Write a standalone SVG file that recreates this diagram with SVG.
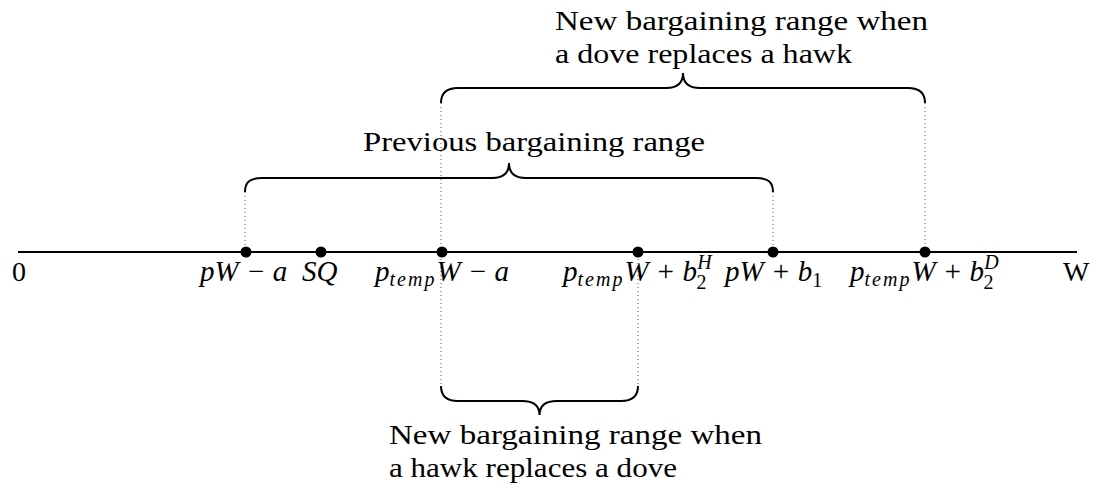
<svg xmlns="http://www.w3.org/2000/svg" width="1094" height="489" viewBox="0 0 1094 489">
<style>
.t{font-family:"Liberation Serif","DejaVu Serif",serif;font-size:27px;fill:#000}
.m{font-family:"Liberation Serif","DejaVu Serif",serif;font-size:29px;font-style:italic;fill:#000}
.u{font-family:"Liberation Serif","DejaVu Serif",serif;font-size:28px;fill:#000}
.s{font-size:20px}
.tp{font-size:20px;letter-spacing:2px}
.su{font-size:20px;font-style:normal}
.brace{fill:none;stroke:#000;stroke-width:2}
.dot{fill:none;stroke:#555;stroke-width:1;stroke-dasharray:1 3}
.axis{stroke:#000;stroke-width:2}
</style>
<rect width="1094" height="489" fill="#fff"/>
<g id="connectors">
<line class="dot" x1="245" y1="192" x2="245" y2="251"/>
<line class="dot" x1="773" y1="192" x2="773" y2="251"/>
<line class="dot" x1="441" y1="103" x2="441" y2="386"/>
<line class="dot" x1="925" y1="103" x2="925" y2="251"/>
<line class="dot" x1="638" y1="251" x2="638" y2="386"/>
<line class="axis" x1="18" y1="252" x2="1077" y2="252"/>
</g>
<g id="brace-previous">
<path class="brace" d="M245,192 C245,182 250,178 262,178 L492,178 C504,178 509,172 509,163 C509,172 514,178 526,178 L756,178 C768,178 773,182 773,192"/>
<text class="t" x="363" y="151" textLength="342" lengthAdjust="spacingAndGlyphs">Previous bargaining range</text>
</g>
<g id="brace-dove">
<path class="brace" d="M441,103 C441,93 446,88 458,88 L666,88 C678,88 683,82 683,73 C683,82 688,88 700,88 L908,88 C920,88 925,93 925,103"/>
<text class="t" x="555" y="30" textLength="373" lengthAdjust="spacingAndGlyphs">New bargaining range when</text>
<text class="t" x="555" y="63" textLength="297" lengthAdjust="spacingAndGlyphs">a dove replaces a hawk</text>
</g>
<g id="brace-hawk">
<path class="brace" d="M441,386 C441,396 446,401 458,401 L522,401 C534,401 539.5,406 539.5,415 C539.5,406 545,401 557,401 L621,401 C633,401 638,396 638,386"/>
<text class="t" x="389" y="444" textLength="373" lengthAdjust="spacingAndGlyphs">New bargaining range when</text>
<text class="t" x="389" y="477" textLength="288" lengthAdjust="spacingAndGlyphs">a hawk replaces a dove</text>
</g>
<g id="points">
<circle cx="246" cy="252" r="5.5"/>
<circle cx="321" cy="252" r="5.5"/>
<circle cx="442" cy="252" r="5.5"/>
<circle cx="638" cy="252" r="5.5"/>
<circle cx="773" cy="252" r="5.5"/>
<circle cx="925" cy="252" r="5.5"/>
</g>
<g id="labels">
<text class="u" x="12" y="281">0</text>
<text class="u" x="1063" y="281">W</text>
<text class="m" x="200" y="281">pW − a</text>
<text class="m" x="302" y="281">SQ</text>
<text class="m" x="375" y="281">p<tspan class="tp" dy="5">temp</tspan><tspan dy="-5">W − a</tspan></text>
<text class="m" x="563" y="281">p<tspan class="tp" dy="5">temp</tspan><tspan dy="-5">W + b</tspan><tspan class="s" dy="-12">H</tspan><tspan class="su" dx="-15" dy="20">2</tspan></text>
<text class="m" x="725" y="281">pW + b<tspan class="su" dy="6">1</tspan></text>
<text class="m" x="850" y="281">p<tspan class="tp" dy="5">temp</tspan><tspan dy="-5">W + b</tspan><tspan class="s" dy="-12">D</tspan><tspan class="su" dx="-15" dy="20">2</tspan></text>
</g>
</svg>
